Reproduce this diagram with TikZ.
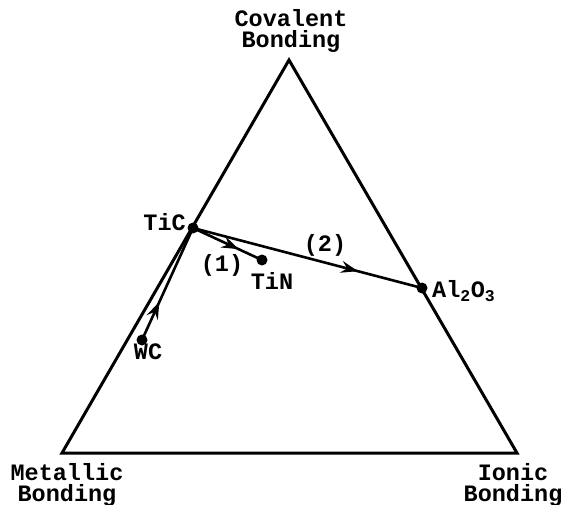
\documentclass[tikz,border=0pt]{standalone}
\usepackage{fontspec}
\setmainfont{Liberation Mono}
\usetikzlibrary{arrows.meta,decorations.markings}
\tikzset{
  lbl/.style={font=\fontsize{23.5}{20.5}\selectfont\bfseries, inner sep=0pt, align=center},
  dot/.style={circle, fill=black, minimum size=11pt, inner sep=0pt},
  edge/.style={line width=3pt, line join=miter},
  conn/.style={line width=2.6pt},
  midarrow/.style={postaction={decorate, decoration={markings,
     mark=at position #1 with {\arrow{Stealth[length=17pt,width=12pt,inset=6pt]}}}}}
}
\begin{document}
\begin{tikzpicture}[x=1pt,y=-1pt]
\useasboundingbox (0,0) rectangle (564,505);
% triangle
\coordinate (top) at (289,60);
\coordinate (bl) at (62,453);
\coordinate (br) at (517,453);
\draw[edge] (top) -- (bl) -- (br) -- cycle;
% corner labels
\node[lbl] (cov) at (291,31) {Covalent\\Bonding};
\node[lbl] (met) at (67,485) {Metallic\\Bonding};
\node[lbl] (ion) at (513,485) {Ionic\\Bonding};
% points
\node[dot] (tic) at (193,228) {};
\node[dot] (tin) at (262,260) {};
\node[dot] (al) at (422,288) {};
\node[dot] (wc) at (142,340) {};
% point labels
\node[lbl, anchor=east] (ticl) at (186,222) {TiC};
\node[lbl] (tinl) at (272,281) {TiN};
\node[lbl, anchor=west] (all) at (432,291) {Al\textsubscript{2}O\textsubscript{3}};
\node[lbl] (wcl) at (148,352) {WC};
\node[lbl] (l1) at (222,265) {(1)};
\node[lbl] (l2) at (325,245) {(2)};
% connectors
\draw[conn, midarrow=0.66] (tic.center) -- (tin.center);
\draw[conn, midarrow=0.72] (tic.center) -- (al.center);
\draw[conn, midarrow=0.34] (wc.center) -- (tic.center);
\end{tikzpicture}
\end{document}
